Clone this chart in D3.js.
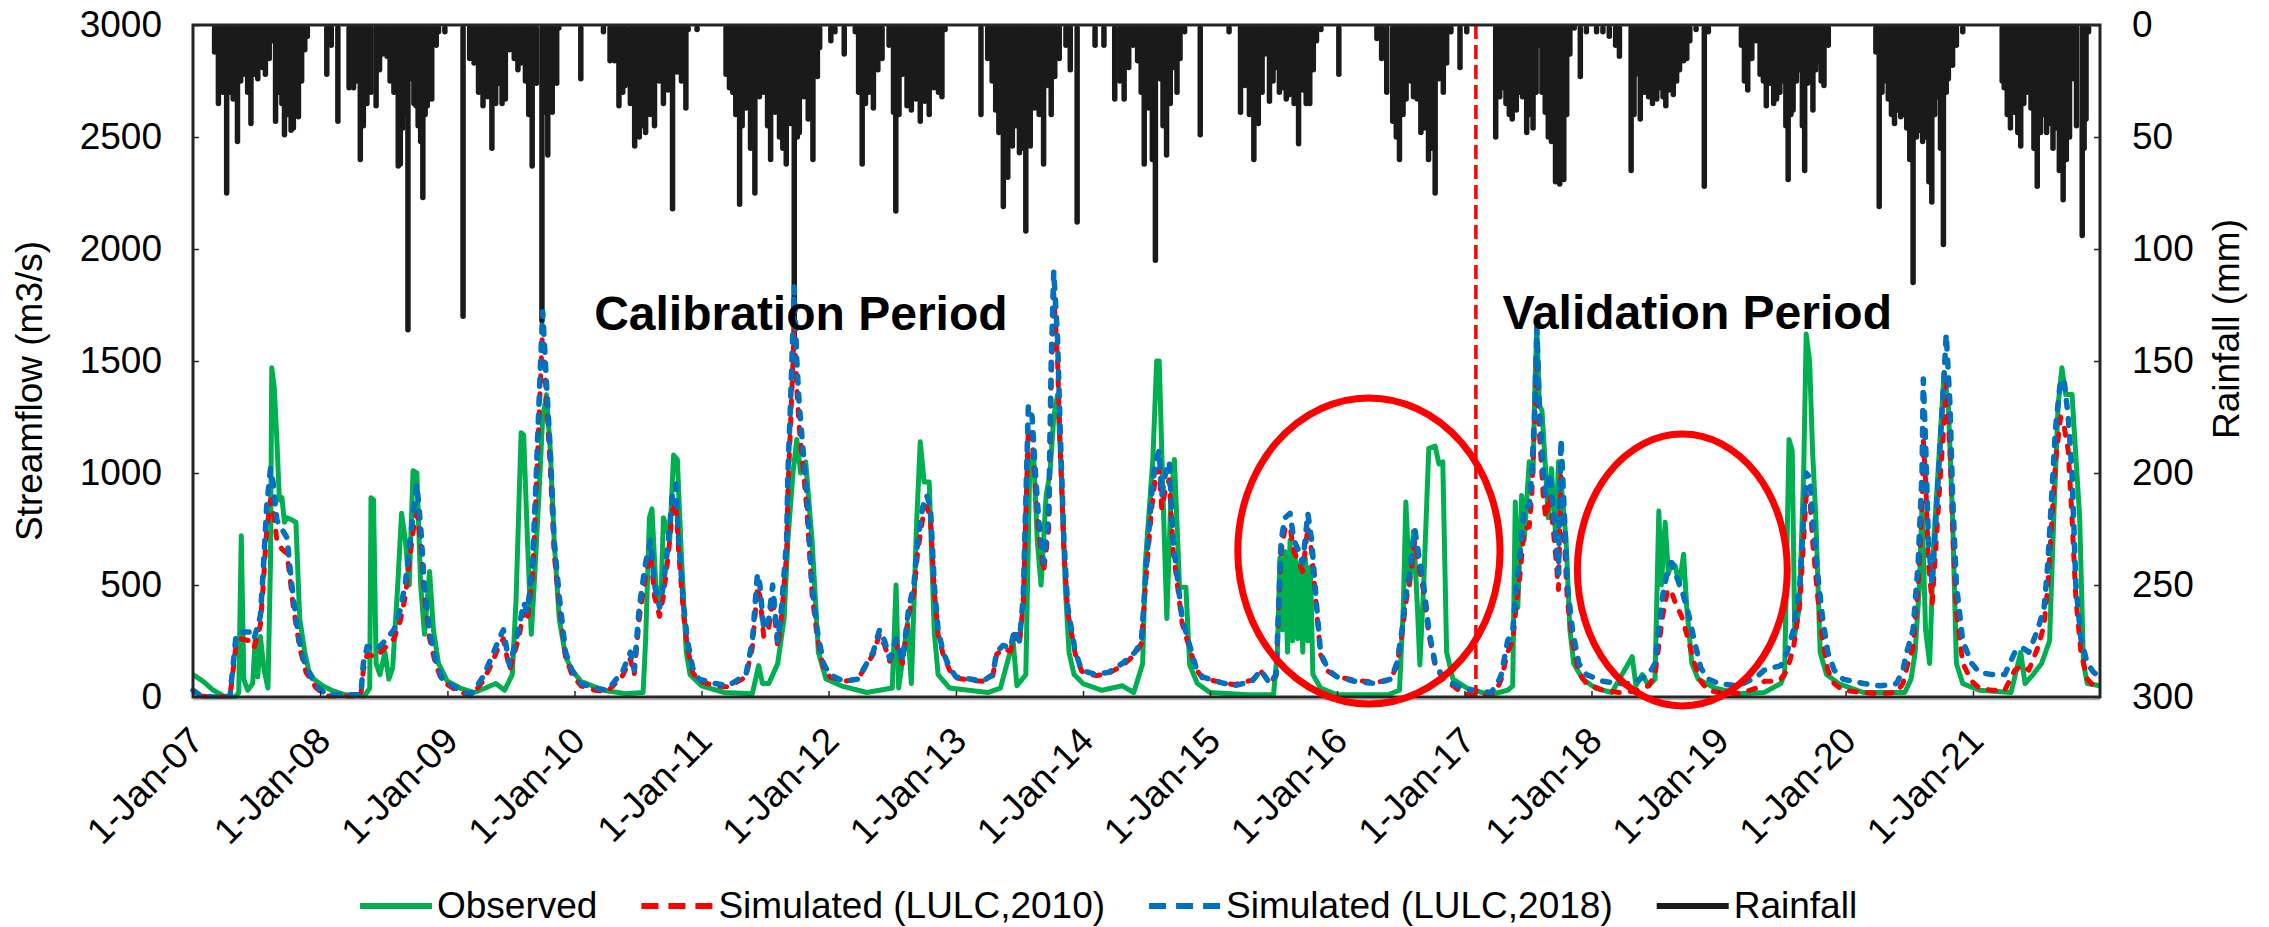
<!DOCTYPE html>
<html>
<head>
<meta charset="utf-8">
<script src="https://cdn.jsdelivr.net/npm/d3@7"></script>
<style>
    body { margin: 0; background: #fff; }
    text { font-family: "Liberation Sans", Arial, sans-serif; }
</style>
</head>
<body>
<div id="chart-area"></div>
<script>
/*
*    Streamflow vs rainfall, calibration / validation
*/
// [decimal year, m3/s]
var observed = [
    [2007.00,100],[2007.08,70],[2007.16,30],[2007.24,5],[2007.33,0],[2007.36,20],[2007.38,720],[2007.40,80],[2007.43,30],[2007.47,60],[2007.49,260],[2007.51,90],[2007.53,270],[2007.56,120],[2007.59,40],[2007.61,600],[2007.62,1470],[2007.64,1380],[2007.66,1150],[2007.68,880],[2007.70,890],[2007.72,780],[2007.74,800],[2007.78,790],[2007.81,780],[2007.84,350],[2007.88,200],[2007.91,120],[2007.95,80],[2008.02,50],[2008.09,30],[2008.20,10],[2008.35,5],
    [2008.39,40],[2008.40,890],[2008.42,880],[2008.44,150],[2008.47,100],[2008.51,200],[2008.54,80],[2008.57,130],[2008.61,500],[2008.64,820],[2008.67,700],[2008.70,500],[2008.73,1010],[2008.76,1000],[2008.79,500],[2008.82,280],[2008.86,560],[2008.89,300],[2008.93,150],[2009.00,70],[2009.10,40],[2009.21,20],[2009.30,40],[2009.38,60],[2009.45,30],
    [2009.51,100],[2009.54,430],[2009.58,1180],[2009.60,1170],[2009.63,700],[2009.66,280],[2009.68,470],[2009.72,900],[2009.75,1250],[2009.78,1350],[2009.81,1100],[2009.84,700],[2009.88,350],[2009.93,180],[2009.98,120],[2010.05,70],[2010.23,30],[2010.40,15],[2010.54,20],
    [2010.56,250],[2010.59,800],[2010.61,840],[2010.64,500],[2010.68,420],[2010.70,800],[2010.73,750],[2010.75,700],[2010.78,1080],[2010.81,1060],[2010.84,650],[2010.88,200],[2010.91,100],[2011.00,50],[2011.18,20],[2011.40,15],[2011.45,140],[2011.48,60],
    [2011.53,60],[2011.60,150],[2011.65,350],[2011.68,700],[2011.72,1000],[2011.75,1150],[2011.78,1000],[2011.82,1050],[2011.87,700],[2011.92,200],[2011.98,80],[2012.10,50],[2012.30,20],
    [2012.50,40],[2012.53,500],[2012.55,40],[2012.62,330],[2012.65,60],[2012.69,760],[2012.72,1140],[2012.75,960],[2012.79,960],[2012.83,290],[2012.86,100],[2012.95,40],[2013.25,20],
    [2013.35,40],[2013.45,250],[2013.48,50],[2013.55,100],[2013.58,1000],[2013.61,1100],[2013.64,700],[2013.67,500],[2013.71,900],[2013.74,1000],[2013.77,1250],[2013.80,1350],[2013.83,1000],[2013.86,500],[2013.89,200],[2013.93,100],[2014.00,60],[2014.15,30],[2014.31,50],[2014.40,20],
    [2014.47,150],[2014.49,590],[2014.55,1060],[2014.58,1500],[2014.60,1500],[2014.63,900],[2014.66,350],[2014.69,860],[2014.72,1060],[2014.76,490],[2014.81,490],[2014.84,143],[2014.90,60],[2015.00,20],[2015.30,10],[2015.50,10],
    [2015.53,200],[2015.55,620],[2015.57,300],[2015.59,650],[2015.61,200],[2015.63,700],[2015.65,250],[2015.67,650],[2015.69,260],[2015.71,600],[2015.73,200],[2015.75,620],[2015.77,250],[2015.79,580],[2015.81,100],[2015.87,40],[2016.00,10],[2016.40,10],
    [2016.49,30],[2016.52,400],[2016.54,870],[2016.57,500],[2016.60,740],[2016.63,410],[2016.65,143],[2016.68,500],[2016.72,1110],[2016.77,1120],[2016.80,1040],[2016.83,1050],[2016.86,200],[2016.91,80],[2017.02,40],[2017.20,10],
    [2017.34,30],[2017.38,50],[2017.40,870],[2017.42,400],[2017.45,900],[2017.47,700],[2017.51,1050],[2017.54,1000],[2017.555,1400],[2017.57,1650],[2017.59,1300],[2017.61,1280],[2017.64,1000],[2017.66,800],[2017.685,1020],[2017.72,700],[2017.74,1050],[2017.77,900],[2017.80,700],[2017.83,300],[2017.86,150],[2017.93,80],[2018.03,40],[2018.16,20],
    [2018.32,180],[2018.35,50],[2018.40,100],[2018.45,50],[2018.50,80],[2018.53,830],[2018.55,500],[2018.58,780],[2018.605,550],[2018.63,600],[2018.66,585],[2018.69,500],[2018.725,637],[2018.75,400],[2018.79,150],[2018.84,80],[2018.97,40],[2019.16,15],[2019.36,20],[2019.49,60],
    [2019.52,100],[2019.555,1150],[2019.58,1100],[2019.60,277],[2019.636,400],[2019.67,996],[2019.69,1620],[2019.717,1500],[2019.74,1100],[2019.766,800],[2019.80,200],[2019.85,100],[2019.945,60],[2020.14,20],[2020.40,20],
    [2020.465,20],[2020.514,80],[2020.546,200],[2020.58,500],[2020.60,850],[2020.628,300],[2020.66,150],[2020.693,700],[2020.725,1000],[2020.774,1450],[2020.807,1300],[2020.84,800],[2020.87,150],[2020.92,60],[2021.05,30],[2021.30,20],
    [2021.376,200],[2021.41,60],[2021.473,100],[2021.54,150],[2021.603,250],[2021.636,800],[2021.67,1300],[2021.70,1470],[2021.73,1350],[2021.78,1350],[2021.84,800],[2021.87,150],[2021.90,60],[2022.00,50]
];

var sim2010 = [
    [2007.00,20],[2007.05,5],[2007.15,0],[2007.29,0],[2007.31,90],[2007.34,240],[2007.37,260],[2007.45,250],[2007.48,220],[2007.53,320],[2007.55,480],[2007.58,740],[2007.61,880],[2007.63,840],[2007.66,700],[2007.70,660],[2007.74,640],[2007.77,500],[2007.79,400],[2007.84,220],[2007.89,110],[2007.97,40],[2008.05,5],[2008.32,5],
    [2008.34,120],[2008.37,190],[2008.44,180],[2008.51,220],[2008.58,260],[2008.63,340],[2008.67,450],[2008.70,600],[2008.74,780],[2008.76,820],[2008.79,700],[2008.82,450],[2008.86,260],[2008.91,140],[2008.96,70],[2009.07,30],[2009.18,5],
    [2009.21,20],[2009.28,70],[2009.35,150],[2009.40,220],[2009.44,260],[2009.49,120],[2009.56,260],[2009.60,380],[2009.63,340],[2009.67,540],[2009.70,930],[2009.73,1380],[2009.75,1650],[2009.78,1320],[2009.81,1020],[2009.84,640],[2009.88,410],[2009.93,180],[2009.98,100],[2010.05,50],[2010.16,30],[2010.26,25],
    [2010.33,65],[2010.37,85],[2010.44,170],[2010.47,100],[2010.51,350],[2010.56,540],[2010.60,640],[2010.63,450],[2010.67,360],[2010.70,450],[2010.74,640],[2010.77,830],[2010.80,870],[2010.82,650],[2010.86,360],[2010.89,220],[2010.93,110],[2010.98,70],[2011.11,50],[2011.21,45],
    [2011.32,80],[2011.35,90],[2011.40,220],[2011.44,490],[2011.46,450],[2011.49,270],[2011.53,310],[2011.56,450],[2011.60,220],[2011.63,360],[2011.67,640],[2011.68,920],[2011.70,1200],[2011.73,1650],[2011.75,1380],[2011.77,1200],[2011.80,1020],[2011.83,830],[2011.87,460],[2011.91,270],[2011.96,130],[2012.01,90],[2012.12,70],[2012.23,80],
    [2012.35,190],[2012.40,280],[2012.44,230],[2012.48,160],[2012.53,240],[2012.58,150],[2012.63,370],[2012.67,460],[2012.70,650],[2012.74,800],[2012.77,850],[2012.80,800],[2012.83,470],[2012.86,280],[2012.90,190],[2012.95,120],[2013.00,85],[2013.11,75],[2013.21,70],
    [2013.29,95],[2013.32,190],[2013.37,215],[2013.43,205],[2013.46,280],[2013.50,235],[2013.53,420],[2013.57,1200],[2013.60,1150],[2013.62,980],[2013.65,740],[2013.69,560],[2013.73,750],[2013.75,1400],[2013.77,1800],[2013.80,1500],[2013.82,1120],[2013.85,650],[2013.88,380],[2013.94,190],[2013.99,115],[2014.10,95],[2014.20,105],
    [2014.31,140],[2014.41,190],[2014.46,240],[2014.50,560],[2014.54,840],[2014.57,980],[2014.60,1020],[2014.62,840],[2014.65,930],[2014.68,970],[2014.71,650],[2014.75,470],[2014.78,330],[2014.83,235],[2014.89,125],[2014.94,85],[2015.05,70],[2015.19,55],
    [2015.33,75],[2015.40,115],[2015.47,65],[2015.52,95],[2015.56,650],[2015.59,750],[2015.63,760],[2015.66,650],[2015.70,600],[2015.73,560],[2015.77,760],[2015.80,650],[2015.84,380],[2015.87,190],[2015.93,115],[2016.00,90],[2016.14,75],[2016.31,65],
    [2016.42,80],[2016.47,140],[2016.51,280],[2016.54,420],[2016.58,560],[2016.61,700],[2016.65,560],[2016.68,470],[2016.72,280],[2016.77,140],[2016.84,75],[2016.91,50],[2016.98,20],[2017.05,10],[2017.21,10],
    [2017.26,40],[2017.29,80],[2017.34,200],[2017.38,250],[2017.41,420],[2017.44,560],[2017.47,750],[2017.51,760],[2017.53,900],[2017.55,1200],[2017.57,1480],[2017.59,1180],[2017.62,900],[2017.64,800],[2017.67,900],[2017.69,800],[2017.72,620],[2017.74,480],[2017.76,1000],[2017.78,780],[2017.81,430],[2017.85,250],[2017.90,110],[2017.96,60],[2018.09,30],[2018.22,20],
    [2018.32,25],[2018.38,35],[2018.45,50],[2018.50,100],[2018.53,230],[2018.56,360],[2018.60,480],[2018.63,470],[2018.66,420],[2018.71,360],[2018.76,260],[2018.81,150],[2018.86,70],[2018.92,30],[2019.00,20],[2019.16,15],
    [2019.30,40],[2019.36,70],[2019.42,70],[2019.49,80],[2019.54,120],[2019.59,220],[2019.64,420],[2019.67,700],[2019.69,900],[2019.72,880],[2019.74,700],[2019.78,450],[2019.82,250],[2019.86,120],[2019.91,60],[2019.98,30],[2020.14,20],[2020.27,15],[2020.40,20],
    [2020.45,60],[2020.48,130],[2020.53,220],[2020.57,500],[2020.60,850],[2020.61,1150],[2020.63,950],[2020.65,600],[2020.68,420],[2020.71,680],[2020.74,950],[2020.77,1200],[2020.79,1400],[2020.82,1100],[2020.84,750],[2020.87,380],[2020.92,150],[2020.99,70],[2021.05,40],[2021.15,30],[2021.25,30],
    [2021.33,120],[2021.39,140],[2021.44,120],[2021.51,220],[2021.56,320],[2021.59,500],[2021.62,780],[2021.65,1050],[2021.69,1250],[2021.72,1200],[2021.75,1100],[2021.78,800],[2021.81,440],[2021.85,200],[2021.90,80],[2021.95,50],[2022.00,40]
];

var sim2018 = [
    [2007.00,30],[2007.05,10],[2007.15,0],[2007.29,0],[2007.31,110],[2007.34,280],[2007.37,290],[2007.45,290],[2007.48,260],[2007.53,360],[2007.55,540],[2007.58,850],[2007.61,1020],[2007.63,960],[2007.66,790],[2007.70,750],[2007.74,710],[2007.77,540],[2007.79,440],[2007.84,240],[2007.89,130],[2007.97,50],[2008.05,10],[2008.32,10],
    [2008.34,150],[2008.37,225],[2008.44,210],[2008.51,250],[2008.58,300],[2008.63,390],[2008.67,510],[2008.70,660],[2008.74,860],[2008.76,950],[2008.79,760],[2008.82,490],[2008.86,290],[2008.91,160],[2008.96,80],[2009.07,40],[2009.18,10],
    [2009.21,30],[2009.28,90],[2009.35,180],[2009.40,250],[2009.44,300],[2009.49,140],[2009.56,300],[2009.60,420],[2009.63,380],[2009.67,600],[2009.70,1000],[2009.73,1450],[2009.75,1720],[2009.78,1400],[2009.81,1100],[2009.84,700],[2009.88,450],[2009.93,200],[2009.98,120],[2010.05,60],[2010.16,40],[2010.26,30],
    [2010.33,80],[2010.37,100],[2010.44,200],[2010.47,120],[2010.51,400],[2010.56,600],[2010.60,700],[2010.63,500],[2010.67,400],[2010.70,500],[2010.74,700],[2010.77,900],[2010.80,950],[2010.82,700],[2010.86,400],[2010.89,250],[2010.93,130],[2010.98,80],[2011.11,60],[2011.21,50],
    [2011.32,90],[2011.35,100],[2011.40,250],[2011.44,550],[2011.46,500],[2011.49,300],[2011.53,350],[2011.56,500],[2011.60,250],[2011.63,400],[2011.67,700],[2011.68,1000],[2011.70,1300],[2011.73,1830],[2011.75,1500],[2011.77,1300],[2011.80,1100],[2011.83,900],[2011.87,500],[2011.91,300],[2011.96,150],[2012.01,100],[2012.12,70],[2012.23,80],
    [2012.35,200],[2012.40,300],[2012.44,250],[2012.48,170],[2012.53,260],[2012.58,160],[2012.63,400],[2012.67,500],[2012.70,700],[2012.74,850],[2012.77,900],[2012.80,850],[2012.83,500],[2012.86,300],[2012.90,200],[2012.95,130],[2013.00,90],[2013.11,80],[2013.21,70],
    [2013.29,100],[2013.32,200],[2013.37,230],[2013.43,220],[2013.46,300],[2013.50,250],[2013.53,450],[2013.57,1300],[2013.60,1250],[2013.62,1050],[2013.65,800],[2013.69,600],[2013.73,800],[2013.75,1500],[2013.77,1900],[2013.80,1600],[2013.82,1200],[2013.85,700],[2013.88,400],[2013.94,200],[2013.99,120],[2014.10,100],[2014.20,110],
    [2014.31,150],[2014.41,200],[2014.46,250],[2014.50,600],[2014.54,900],[2014.57,1050],[2014.60,1100],[2014.62,900],[2014.65,1000],[2014.68,1050],[2014.71,700],[2014.75,500],[2014.78,350],[2014.83,250],[2014.89,130],[2014.94,90],[2015.05,70],[2015.19,50],
    [2015.33,70],[2015.40,120],[2015.47,60],[2015.52,100],[2015.56,700],[2015.59,800],[2015.63,820],[2015.66,700],[2015.70,650],[2015.73,600],[2015.77,820],[2015.80,700],[2015.84,400],[2015.87,200],[2015.93,120],[2016.00,90],[2016.14,70],[2016.31,60],
    [2016.42,80],[2016.47,150],[2016.51,300],[2016.54,450],[2016.58,600],[2016.61,750],[2016.65,600],[2016.68,500],[2016.72,300],[2016.77,150],[2016.84,80],[2016.91,60],[2016.98,40],[2017.05,30],[2017.21,20],
    [2017.26,60],[2017.29,100],[2017.34,250],[2017.38,300],[2017.41,500],[2017.44,650],[2017.47,850],[2017.51,850],[2017.53,1000],[2017.555,1300],[2017.57,1650],[2017.59,1300],[2017.62,1000],[2017.64,900],[2017.67,1000],[2017.69,900],[2017.72,700],[2017.74,550],[2017.76,1150],[2017.78,900],[2017.81,500],[2017.85,300],[2017.90,150],[2017.96,100],[2018.09,70],[2018.22,60],
    [2018.32,60],[2018.38,80],[2018.45,100],[2018.50,150],[2018.53,300],[2018.56,450],[2018.60,570],[2018.63,600],[2018.66,550],[2018.71,480],[2018.76,380],[2018.81,250],[2018.86,130],[2018.92,80],[2019.00,60],[2019.16,50],
    [2019.30,90],[2019.36,120],[2019.42,130],[2019.49,140],[2019.54,200],[2019.59,300],[2019.64,500],[2019.67,800],[2019.69,1000],[2019.72,980],[2019.74,800],[2019.78,550],[2019.82,350],[2019.86,200],[2019.91,120],[2019.98,80],[2020.14,60],[2020.27,50],[2020.40,60],
    [2020.45,120],[2020.48,200],[2020.53,300],[2020.57,600],[2020.60,1000],[2020.61,1420],[2020.63,1100],[2020.65,700],[2020.68,500],[2020.71,800],[2020.74,1100],[2020.77,1400],[2020.79,1620],[2020.82,1300],[2020.84,900],[2020.87,500],[2020.92,250],[2020.99,150],[2021.05,110],[2021.15,100],[2021.25,100],
    [2021.33,200],[2021.39,220],[2021.44,200],[2021.51,300],[2021.56,400],[2021.59,600],[2021.62,900],[2021.65,1200],[2021.69,1420],[2021.72,1400],[2021.75,1250],[2021.78,1000],[2021.81,500],[2021.85,260],[2021.90,150],[2021.95,110],[2022.00,90]
];

// [decimal year, mm]
var rainfall = [
    [2007.17,12],[2007.20,35],[2007.235,30],[2007.265,75],[2007.29,30],[2007.316,33],[2007.35,52],[2007.375,25],[2007.40,22],[2007.43,30],[2007.456,44],[2007.48,22],[2007.51,24],[2007.544,19],[2007.57,22],[2007.60,15],[2007.63,7],[2007.65,43],[2007.675,30],[2007.70,35],[2007.72,49],[2007.745,40],[2007.772,47],[2007.79,46],[2007.81,35],[2007.83,41],[2007.855,25],[2007.88,11],[2007.90,5],
    [2008.053,22],[2008.088,9],[2008.14,43],
    [2008.228,28],[2008.263,28],[2008.29,25],[2008.316,60],[2008.34,45],[2008.368,35],[2008.40,30],[2008.44,36],[2008.467,20],[2008.49,13],[2008.526,14],[2008.55,25],[2008.58,30],[2008.614,63],[2008.63,62],[2008.65,46],[2008.667,40],[2008.69,136],[2008.72,24],[2008.737,35],[2008.754,36],[2008.77,45],[2008.79,52],[2008.807,77],[2008.825,40],[2008.842,36],[2008.877,33],[2008.912,9],[2008.93,3],[2008.98,3],
    [2009.123,130],
    [2009.175,15],[2009.21,17],[2009.245,30],[2009.28,36],[2009.316,32],[2009.35,55],[2009.38,35],[2009.40,26],[2009.43,35],[2009.456,33],[2009.49,11],[2009.526,15],[2009.555,20],[2009.58,17],[2009.614,25],[2009.64,40],[2009.667,63],[2009.70,26],[2009.744,132],[2009.77,39],[2009.79,58],[2009.825,39],[2009.86,26],[2009.877,1],
    [2010.05,24],[2010.228,3],
    [2010.28,16],[2010.316,16],[2010.35,36],[2010.38,30],[2010.40,27],[2010.44,35],[2010.474,54],[2010.51,50],[2010.533,45],[2010.56,48],[2010.596,40],[2010.63,45],[2010.667,25],[2010.70,35],[2010.737,29],[2010.772,82],[2010.807,21],[2010.842,25],[2010.877,37],[2010.895,2],[2010.965,2],
    [2011.193,22],[2011.22,28],[2011.246,30],[2011.27,40],[2011.30,80],[2011.32,45],[2011.35,37],[2011.386,55],[2011.42,75],[2011.456,32],[2011.49,30],[2011.52,45],[2011.544,60],[2011.58,39],[2011.614,50],[2011.64,55],[2011.667,62],[2011.70,44],[2011.73,141],[2011.754,50],[2011.77,48],[2011.807,32],[2011.84,42],[2011.877,60],[2011.912,23],[2011.93,10],
    [2012.018,7],[2012.05,3],[2012.123,13],
    [2012.21,3],[2012.236,30],[2012.264,62],[2012.29,35],[2012.317,30],[2012.352,37],[2012.387,20],[2012.42,15],[2012.475,9],[2012.51,39],[2012.528,83],[2012.553,40],[2012.58,22],[2012.616,36],[2012.65,38],[2012.687,33],[2012.72,43],[2012.757,34],[2012.79,40],[2012.827,28],[2012.863,30],[2012.89,32],[2012.915,2],
    [2013.197,40],
    [2013.25,15],[2013.285,25],[2013.313,38],[2013.338,48],[2013.373,81],[2013.408,68],[2013.444,54],[2013.472,45],[2013.50,57],[2013.52,55],[2013.55,92],[2013.585,54],[2013.62,37],[2013.655,40],[2013.69,62],[2013.725,27],[2013.75,40],[2013.778,23],[2013.813,15],[2013.866,9],[2013.90,20],[2013.954,88],
    [2014.095,9],[2014.165,9],
    [2014.25,33],[2014.29,25],[2014.324,33],[2014.36,19],[2014.394,9],[2014.43,16],[2014.458,30],[2014.482,62],[2014.518,37],[2014.546,60],[2014.57,105],[2014.606,24],[2014.63,45],[2014.658,58],[2014.687,35],[2014.71,19],[2014.74,30],[2014.764,15],[2014.80,3],
    [2014.923,49],[2015.15,3],
    [2015.24,39],[2015.275,27],[2015.31,40],[2015.345,60],[2015.38,44],[2015.41,30],[2015.433,13],[2015.468,34],[2015.496,25],[2015.52,19],[2015.546,30],[2015.574,28],[2015.60,33],[2015.627,31],[2015.662,35],[2015.697,53],[2015.732,29],[2015.757,35],[2015.785,35],[2015.813,20],[2015.838,7],[2015.873,2],
    [2016.014,22],
    [2016.313,6],[2016.35,15],[2016.39,30],[2016.437,43],[2016.465,50],[2016.49,60],[2016.518,40],[2016.542,33],[2016.577,25],[2016.60,32],[2016.63,33],[2016.658,48],[2016.683,46],[2016.718,60],[2016.743,55],[2016.77,75],[2016.80,24],[2016.834,30],[2016.86,17],[2016.894,3],[2016.965,19],[2017.018,3],
    [2017.246,50],
    [2017.278,32],[2017.30,28],[2017.327,35],[2017.353,40],[2017.376,42],[2017.408,38],[2017.434,30],[2017.457,32],[2017.49,48],[2017.512,40],[2017.54,46],[2017.564,30],[2017.587,9],[2017.61,30],[2017.636,39],[2017.66,50],[2017.685,52],[2017.717,70],[2017.734,60],[2017.75,71],[2017.766,55],[2017.782,69],[2017.805,40],[2017.83,13],[2017.864,1],
    [2017.912,23],[2017.96,3],[2018.04,3],[2018.09,3],[2018.14,5],[2018.19,9],[2018.22,14],
    [2018.312,65],[2018.335,40],[2018.35,22],[2018.384,42],[2018.416,30],[2018.45,32],[2018.48,35],[2018.514,33],[2018.54,28],[2018.563,32],[2018.585,36],[2018.61,29],[2018.644,31],[2018.67,25],[2018.693,20],[2018.725,16],[2018.75,15],[2018.774,7],[2018.823,2],[2018.888,72],[2018.92,3],
    [2019.18,9],[2019.204,25],[2019.23,29],[2019.262,15],[2019.295,7],[2019.327,22],[2019.353,25],[2019.376,36],[2019.408,26],[2019.434,35],[2019.457,33],[2019.483,30],[2019.506,25],[2019.53,45],[2019.548,69],[2019.57,40],[2019.587,38],[2019.613,25],[2019.636,20],[2019.66,45],[2019.678,65],[2019.70,26],[2019.717,25],[2019.743,38],[2019.766,20],[2019.782,16],[2019.808,25],[2019.83,27],[2019.864,9],
    [2020.238,12],[2020.264,81],[2020.286,30],[2020.30,25],[2020.335,33],[2020.36,40],[2020.384,44],[2020.41,38],[2020.433,41],[2020.46,40],[2020.48,46],[2020.504,60],[2020.53,115],[2020.556,50],[2020.58,47],[2020.605,52],[2020.628,50],[2020.654,70],[2020.677,79],[2020.70,40],[2020.726,32],[2020.745,55],[2020.768,98],[2020.79,30],[2020.807,24],[2020.84,18],[2020.87,9],[2020.92,3],
    [2021.23,25],[2021.246,28],[2021.27,40],[2021.295,46],[2021.327,39],[2021.353,48],[2021.376,54],[2021.40,35],[2021.425,30],[2021.457,37],[2021.48,55],[2021.506,72],[2021.532,48],[2021.555,40],[2021.58,48],[2021.60,44],[2021.63,55],[2021.652,46],[2021.68,65],[2021.71,78],[2021.735,60],[2021.76,50],[2021.79,24],[2021.815,45],[2021.86,94],[2021.875,55],[2021.89,42],[2021.91,3]
];

var flowTicks = [0, 500, 1000, 1500, 2000, 2500, 3000];
var rainTicks = [0, 50, 100, 150, 200, 250, 300];
var yearTicks = d3.range(2007, 2022);
var splitYear = 2017.09;
var seriesNames = ["Observed", "Simulated (LULC,2010)", "Simulated (LULC,2018)", "Rainfall"];
var periodLabels = [
    {text: "Calibration Period", year: 2010.155, flow: 1640},
    {text: "Validation Period", year: 2017.30, flow: 1645}
];
// ellipses: centre (year, flow), half sizes in years and m3/s
var highlights = [
    {year: 2016.25, flow: 652, rYear: 1.03, rFlow: 683},
    {year: 2018.715, flow: 567, rYear: 0.826, rFlow: 607}
];

var margin = {left: 193, right: 169, top: 25, bottom: 230};
var width = 2269 - margin.left - margin.right;
var height = 927 - margin.top - margin.bottom;

function toDate(t){
    var yr = Math.floor(t);
    var a = new Date(yr, 0, 1), b = new Date(yr + 1, 0, 1);
    return new Date(+a + (t - yr) * (b - a));
}

var svg = d3.select("#chart-area")
    .append("svg")
        .attr("width", 2269)
        .attr("height", 927)
        .style("background", "#fff");

var g = svg.append("g")
    .attr("transform", "translate(" + margin.left + "," + margin.top + ")");

var x = d3.scaleTime()
    .domain([new Date(2007, 0, 1), new Date(2022, 0, 1)])
    .range([0, width]);
var y = d3.scaleLinear().domain([0, 3000]).range([height, 0]);
var yRain = d3.scaleLinear().domain([0, 300]).range([0, height]);

// rainfall hanging from the top
g.selectAll(".rain").data(rainfall).enter()
    .append("line")
        .attr("class", "rain")
        .attr("x1", function(d){ return x(toDate(d[0])); })
        .attr("x2", function(d){ return x(toDate(d[0])); })
        .attr("y1", yRain(0) + 3)
        .attr("y2", function(d){ return yRain(d[1]); })
        .attr("stroke", "#1a1a1a")
        .attr("stroke-width", 5.5)
        .attr("stroke-linecap", "round");

var line = d3.line()
    .x(function(d){ return x(toDate(d[0])); })
    .y(function(d){ return y(d[1]); });

g.append("path").datum(observed)
    .attr("d", line)
    .attr("fill", "none")
    .attr("stroke", "#00B050")
    .attr("stroke-width", 5)
    .attr("stroke-linejoin", "round");

g.append("path").datum(sim2010)
    .attr("d", line)
    .attr("fill", "none")
    .attr("stroke", "#FF0000")
    .attr("stroke-width", 5)
    .attr("stroke-linejoin", "round")
    .attr("stroke-linecap", "round")
    .attr("stroke-dasharray", "7,11")
    .attr("stroke-dashoffset", 9);

g.append("path").datum(sim2018)
    .attr("d", line)
    .attr("fill", "none")
    .attr("stroke", "#0070C0")
    .attr("stroke-width", 5.5)
    .attr("stroke-linejoin", "round")
    .attr("stroke-linecap", "round")
    .attr("stroke-dasharray", "7,11");

// calibration / validation split
g.append("line")
    .attr("x1", x(toDate(splitYear)))
    .attr("x2", x(toDate(splitYear)))
    .attr("y1", 0)
    .attr("y2", height)
    .attr("stroke", "#FF0000")
    .attr("stroke-width", 3.5)
    .attr("stroke-dasharray", "14,6");

// axes
var yAxisCall = d3.axisLeft(y)
    .tickValues(flowTicks)
    .tickFormat(d3.format("d"))
    .tickSize(-6)
    .tickPadding(31);
var yAxisGroup = g.append("g").call(yAxisCall);

var rAxisCall = d3.axisRight(yRain)
    .tickValues(rainTicks)
    .tickFormat(d3.format("d"))
    .tickSize(-6)
    .tickPadding(32);
var rAxisGroup = g.append("g")
    .attr("transform", "translate(" + width + ",0)")
    .call(rAxisCall);

var xAxisCall = d3.axisBottom(x)
    .tickValues(yearTicks.map(function(yr){ return new Date(yr, 0, 1); }))
    .tickSize(-6)
    .tickFormat(d3.timeFormat("%-d-%b-%y"));
var xAxisGroup = g.append("g")
    .attr("transform", "translate(0," + height + ")")
    .call(xAxisCall);
xAxisGroup.selectAll("text")
    .attr("x", 0).attr("y", 0).attr("dy", 0)
    .attr("text-anchor", "end")
    .attr("transform", "translate(12,46) rotate(-45)");

[yAxisGroup, rAxisGroup, xAxisGroup].forEach(function(ax){
    ax.select(".domain").remove();
    ax.selectAll("line").attr("stroke", "#262626").attr("stroke-width", 1.5);
    ax.selectAll("text")
        .attr("font-size", "37px")
        .attr("fill", "#000")
        .style("font-family", "'Liberation Sans', Arial, sans-serif");
});

// frame
g.append("line")
    .attr("x1", 0).attr("x2", width)
    .attr("y1", height + 2.5).attr("y2", height + 2.5)
    .attr("stroke", "#b0b0b0").attr("stroke-width", 1.5);
g.append("rect")
    .attr("width", width).attr("height", height)
    .attr("fill", "none")
    .attr("stroke", "#262626")
    .attr("stroke-width", 3);

// axis titles
svg.append("text")
    .attr("transform", "translate(42," + 391 + ") rotate(-90)")
    .attr("text-anchor", "middle")
    .attr("font-size", "37px")
    .text("Streamflow (m3/s)");
svg.append("text")
    .attr("transform", "translate(2239," + 329 + ") rotate(-90)")
    .attr("text-anchor", "middle")
    .attr("font-size", "37px")
    .text("Rainfall (mm)");

// highlight ellipses
g.selectAll(".hl").data(highlights).enter()
    .append("ellipse")
        .attr("cx", function(d){ return x(toDate(d.year)); })
        .attr("cy", function(d){ return y(d.flow); })
        .attr("rx", function(d){ return x(toDate(d.year + d.rYear)) - x(toDate(d.year)); })
        .attr("ry", function(d){ return y(0) - y(d.rFlow); })
        .attr("fill", "none")
        .attr("stroke", "#FF0000")
        .attr("stroke-width", 7);

g.selectAll(".period").data(periodLabels).enter()
    .append("text")
        .attr("x", function(d){ return x(toDate(d.year)); })
        .attr("y", function(d){ return y(d.flow); })
        .attr("font-size", "48px")
        .attr("font-weight", "bold")
        .text(function(d){ return d.text; });

// legend
var legendStyles = [
    {color: "#00B050", dash: null},
    {color: "#FF0000", dash: "17,10"},
    {color: "#0070C0", dash: "17,10"},
    {color: "#1a1a1a", dash: null}
];
var lx = 360, ly = 906;
seriesNames.forEach(function(name, i){
    var s = legendStyles[i];
    var ln = svg.append("line")
        .attr("x1", lx).attr("x2", lx + 72)
        .attr("y1", ly).attr("y2", ly)
        .attr("stroke", s.color)
        .attr("stroke-width", 6);
    if (s.dash) ln.attr("stroke-dasharray", s.dash);
    var t = svg.append("text")
        .attr("x", lx + 77)
        .attr("y", ly + 12)
        .attr("font-size", "37px")
        .text(name);
    lx = lx + 77 + t.node().getComputedTextLength() + 44;
});
</script>
</body>
</html>
